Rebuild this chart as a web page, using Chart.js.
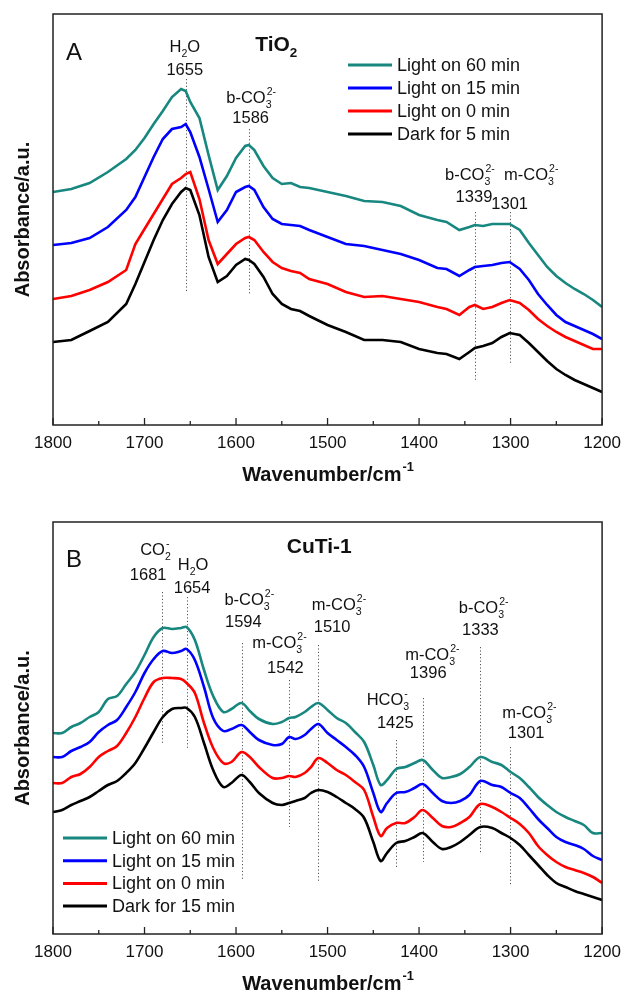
<!DOCTYPE html>
<html>
<head>
<meta charset="utf-8">
<script src="https://cdn.jsdelivr.net/npm/chart.js@4.4.0/dist/chart.umd.min.js"></script>
<style>
  html, body { margin: 0; padding: 0; background: #fff; }
  canvas { display: block; }
</style>
</head>
<body>
<canvas id="chartA" width="629" height="497"></canvas>
<canvas id="chartB" width="629" height="497"></canvas>
<script>
// Panel A: TiO2, wavenumber (cm-1) and offset absorbance traces (a.u.)
const tio2Wavenumber = [1800,1780,1760,1740,1720,1710,1700,1690,1680,1670,1660,1655,1650,1640,1630,1620,1610,1600,1590,1586,1580,1570,1560,1550,1540,1530,1520,1500,1480,1460,1440,1420,1400,1380,1370,1356,1345,1339,1330,1320,1310,1301,1290,1280,1270,1260,1250,1240,1230,1220,1210,1200];
const tio2Light60 = [233,236,242,253,266,275,287,301,314,328,336,334,323,307,270,235,249,267,279,280,275,259,247,241,242,238,237,233,229,224,223,219,210,205,203,195,198,200,199,201,201,201,195,182,170,158,149,142,136,131,125,118];
const tio2Light15 = [180,182,187,198,215,228,248,268,286,296,298,301,293,268,236,203,215,233,238,239,235,218,206,201,200,199,195,188,181,179,175,171,165,157,156,149,155,158,159,160,162,163,156,145,131,120,110,103,99,95,91,86];
const tio2Light0 = [126,129,135,143,155,181,196,211,226,241,247,251,253,226,185,161,171,181,187,188,185,173,163,157,154,152,146,141,133,128,129,126,123,118,116,110,118,120,116,118,122,125,122,115,106,99,93,88,84,80,76,76];
const tio2Dark5 = [83,85,94,103,121,141,163,185,205,221,233,237,235,210,168,143,149,160,166,165,161,148,131,121,116,114,109,100,93,85,85,83,76,72,71,66,73,77,79,82,88,92,90,82,73,64,56,50,45,41,37,33];
const tio2Labels = ['Light on 60 min', 'Light on 15 min', 'Light on 0 min', 'Dark for 5 min'];
const tio2Peaks = [1655, 1586, 1339, 1301];

// Panel B: CuTi-1
const cutiWavenumber = [1800,1790,1780,1770,1760,1750,1740,1730,1720,1710,1700,1690,1680,1670,1660,1654,1645,1635,1625,1614,1605,1594,1585,1575,1560,1550,1542,1535,1525,1518,1510,1500,1490,1480,1470,1460,1450,1442,1435,1425,1415,1405,1396,1385,1375,1365,1355,1345,1333,1320,1310,1300,1290,1280,1270,1260,1250,1240,1230,1220,1210,1200];
const cutiLight60 = [201,201,207,211,217,222,235,238,250,262,279,297,306,305,306,307,294,264,238,222,225,231,223,215,210,212,216,217,222,227,231,224,216,211,202,192,169,149,154,165,167,171,174,164,156,157,160,167,177,172,169,162,156,147,137,129,122,117,113,109,101,101];
const cutiLight15 = [177,177,183,187,192,202,209,214,227,242,261,275,283,281,283,285,274,247,216,203,205,209,202,194,189,190,197,195,199,205,210,201,194,187,179,167,141,122,131,141,142,146,150,141,133,131,133,139,153,149,147,141,136,126,115,106,97,92,89,85,78,74];
const cutiLight0 = [151,151,157,160,167,177,183,188,201,217,236,252,256,256,255,251,241,211,186,171,172,182,177,167,156,156,158,157,161,167,176,171,164,159,152,144,117,98,106,111,111,117,124,116,108,107,111,117,130,127,122,116,110,101,88,79,72,67,64,61,57,51];
const cutiDark15 = [122,124,129,133,137,143,149,153,161,171,186,202,217,225,226,226,217,191,164,147,151,159,152,141,131,129,131,133,136,141,144,142,137,131,125,116,92,73,81,91,93,97,101,92,85,87,92,99,107,106,101,96,89,79,69,59,51,47,43,40,37,34];
const cutiLabels = ['Light on 60 min', 'Light on 15 min', 'Light on 0 min', 'Dark for 15 min'];
const cutiPeaks = [1681, 1654, 1594, 1542, 1510, 1425, 1396, 1333, 1301];

const xTickLabels = [1800, 1700, 1600, 1500, 1400, 1300, 1200];

const FONT = '"Liberation Sans", Arial, sans-serif';
const colors = ['#17877f', '#0000ff', '#ff0000', '#000000'];
Chart.defaults.font.family = FONT;
Chart.defaults.color = '#000';

function chemFont(size, bold) {
    return (bold ? 'bold ' : '') + size + 'px ' + FONT;
}

function chemWidth(ctx, groups, size, bold) {
    let w = 0;
    groups.forEach(([main, sub, sup]) => {
        ctx.font = chemFont(size, bold);
        w += ctx.measureText(main).width;
        ctx.font = chemFont(size * 0.64, bold);
        w += Math.max(ctx.measureText(sub).width, ctx.measureText(sup).width);
    });
    return w;
}

// text with stacked subscript / superscript, centred on cx
function drawChem(ctx, groups, cx, y, size, bold) {
    let x = cx - chemWidth(ctx, groups, size, bold) / 2;
    ctx.textAlign = 'left';
    ctx.textBaseline = 'alphabetic';
    groups.forEach(([main, sub, sup]) => {
        ctx.font = chemFont(size, bold);
        ctx.fillText(main, x, y);
        x += ctx.measureText(main).width;
        ctx.font = chemFont(size * 0.64, bold);
        if (sub) ctx.fillText(sub, x, y + size * 0.3);
        if (sup) ctx.fillText(sup, x + 1, y - size * 0.5);
        x += Math.max(ctx.measureText(sub).width, ctx.measureText(sup).width);
    });
}

const panelDecor = {
    id: 'panelDecor',
    beforeDatasetsDraw(chart, args, opts) {
        const {ctx, scales: {x, y}} = chart;
        ctx.save();
        ctx.setLineDash([1.2, 2.2]);
        ctx.lineWidth = 1;
        ctx.strokeStyle = '#555';
        opts.peaks.forEach((p, i) => {
            const px = Math.round(x.getPixelForValue(p)) + 0.5;
            ctx.beginPath();
            ctx.moveTo(px, y.getPixelForValue(opts.peakLines[i][0]));
            ctx.lineTo(px, y.getPixelForValue(opts.peakLines[i][1]));
            ctx.stroke();
        });
        ctx.restore();
    },
    afterDraw(chart, args, opts) {
        const {ctx, chartArea: a, scales: {x, y}} = chart;
        ctx.save();
        // frame
        ctx.lineWidth = 1.5;
        ctx.strokeStyle = '#222';
        ctx.strokeRect(a.left, a.top, a.right - a.left, a.bottom - a.top);
        // inward ticks on the bottom axis
        ctx.lineWidth = 1.3;
        x.ticks.forEach(t => {
            const px = x.getPixelForValue(t.value);
            const len = xTickLabels.includes(t.value) ? 7 : 4;
            ctx.beginPath();
            ctx.moveTo(px, a.bottom);
            ctx.lineTo(px, a.bottom - len);
            ctx.stroke();
        });

        ctx.fillStyle = '#111';
        // panel letter and sample name
        ctx.font = '24px ' + FONT;
        ctx.textAlign = 'center';
        ctx.textBaseline = 'alphabetic';
        ctx.fillText(opts.letter.text, x.getPixelForValue(opts.letter.x), y.getPixelForValue(opts.letter.y));
        drawChem(ctx, opts.heading.groups, x.getPixelForValue(opts.heading.x), y.getPixelForValue(opts.heading.y), 21, true);

        // peak labels
        opts.species.forEach(s => {
            drawChem(ctx, s.groups, x.getPixelForValue(s.x), y.getPixelForValue(s.y), 16.5, false);
        });
        ctx.font = '16.5px ' + FONT;
        ctx.textAlign = 'center';
        opts.peaks.forEach((p, i) => {
            const [wx, wy] = opts.peakNumbers[i];
            ctx.fillText(String(p), x.getPixelForValue(wx), y.getPixelForValue(wy));
        });

        // legend
        const lg = opts.legend;
        chart.data.datasets.forEach((ds, i) => {
            const ly = a.top + lg.y + i * lg.gap;
            const lx = a.left + lg.x;
            ctx.strokeStyle = ds.borderColor;
            ctx.lineWidth = 3;
            ctx.beginPath();
            ctx.moveTo(lx, ly);
            ctx.lineTo(lx + 44, ly);
            ctx.stroke();
            ctx.fillStyle = '#111';
            ctx.font = '18px ' + FONT;
            ctx.textAlign = 'left';
            ctx.textBaseline = 'middle';
            ctx.fillText(ds.label, lx + 49, ly + 1);
        });

        // x axis title with superscript
        ctx.textBaseline = 'alphabetic';
        drawChem(ctx, [['Wavenumber/cm', '', '-1']], (a.left + a.right) / 2, a.bottom + 56, 20, true);
        ctx.restore();
    }
};

function makeChart(id, xs, series, labels, decor, padTop, axisHeight, yMax, tension) {
    const ctx = document.getElementById(id).getContext('2d');
    return new Chart(ctx, {
        type: 'line',
        data: {
            datasets: series.map((ys, i) => ({
                label: labels[i],
                data: xs.map((w, j) => ({x: w, y: ys[j]})),
                borderColor: colors[i],
                backgroundColor: colors[i],
                borderWidth: 2.6,
                pointRadius: 0,
                fill: false,
                tension: tension
            }))
        },
        options: {
            responsive: false,
            animation: false,
            devicePixelRatio: 1,
            layout: {padding: {left: 0, right: 21, top: padTop, bottom: 0}},
            plugins: {
                legend: {display: false},
                tooltip: {enabled: false},
                panelDecor: decor
            },
            scales: {
                x: {
                    type: 'linear',
                    reverse: true,
                    min: 1200,
                    max: 1800,
                    grid: {display: false, drawTicks: false},
                    border: {display: false},
                    ticks: {
                        stepSize: 50,
                        autoSkip: false,
                        maxRotation: 0,
                        padding: 8,
                        color: '#111',
                        font: {size: 17},
                        callback: v => xTickLabels.includes(v) ? String(v) : ''
                    },
                    afterFit: s => { s.height = axisHeight; }
                },
                y: {
                    min: 0,
                    max: yMax,
                    grid: {display: false, drawTicks: false},
                    border: {display: false},
                    ticks: {display: false},
                    title: {
                        display: true,
                        text: 'Absorbance/a.u.',
                        color: '#111',
                        font: {size: 20, weight: 'bold'},
                        padding: {top: 11, bottom: 0}
                    },
                    afterFit: s => { s.width = 53; }
                }
            }
        },
        plugins: [panelDecor]
    });
}

makeChart('chartA', tio2Wavenumber, [tio2Light60, tio2Light15, tio2Light0, tio2Dark5], tio2Labels, {
    peaks: tio2Peaks,
    peakLines: [[346, 133], [296, 130], [213, 43], [213, 60]],
    peakNumbers: [[1656, 350], [1584, 302], [1340, 223], [1301, 216]],
    letter: {text: 'A', x: 1777, y: 365},
    heading: {groups: [['TiO', '2', '']], x: 1556, y: 374},
    species: [
        {groups: [['H', '2', ''], ['O', '', '']], x: 1656, y: 373},
        {groups: [['b-CO', '3', '2-']], x: 1584, y: 322},
        {groups: [['b-CO', '3', '2-']], x: 1345, y: 245},
        {groups: [['m-CO', '3', '2-']], x: 1278, y: 245}
    ],
    legend: {x: 295, y: 51, gap: 23}
}, 14, 72, 411, 0);

makeChart('chartB', cutiWavenumber, [cutiLight60, cutiLight15, cutiLight0, cutiDark15], cutiLabels, {
    peaks: cutiPeaks,
    peakLines: [[342, 189], [337, 184], [291, 54], [254, 107], [289, 52], [194, 66], [236, 72], [287, 81], [187, 49]],
    peakNumbers: [[1696, 354], [1648, 341], [1592, 307], [1546, 261], [1495, 302], [1426, 206], [1390, 256], [1333, 299], [1283, 196]],
    letter: {text: 'B', x: 1777, y: 367},
    heading: {groups: [['CuTi-1', '', '']], x: 1509, y: 381},
    species: [
        {groups: [['CO', '2', '-']], x: 1688, y: 379},
        {groups: [['H', '2', ''], ['O', '', '']], x: 1647, y: 364},
        {groups: [['b-CO', '3', '2-']], x: 1586, y: 329},
        {groups: [['m-CO', '3', '2-']], x: 1553, y: 286},
        {groups: [['m-CO', '3', '2-']], x: 1488, y: 324},
        {groups: [['HCO', '3', '-']], x: 1434, y: 229},
        {groups: [['m-CO', '3', '2-']], x: 1386, y: 274},
        {groups: [['b-CO', '3', '2-']], x: 1330, y: 321},
        {groups: [['m-CO', '3', '2-']], x: 1280, y: 216}
    ],
    legend: {x: 10, y: 316, gap: 22.7}
}, 25, 60, 412, 0.35);
</script>
</body>
</html>
